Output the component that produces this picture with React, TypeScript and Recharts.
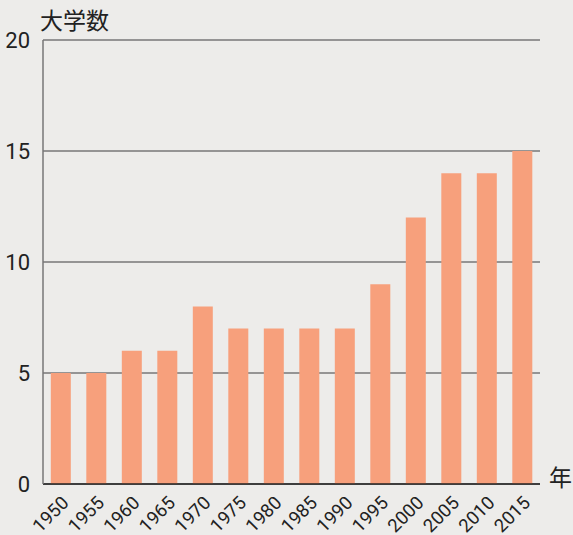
import { Bar, BarChart, CartesianGrid, XAxis, YAxis } from "recharts";

const years = ["1950", "1955", "1960", "1965", "1970", "1975", "1980", "1985", "1990", "1995", "2000", "2005", "2010", "2015"];
const universities = [5, 5, 6, 6, 8, 7, 7, 7, 7, 9, 12, 14, 14, 15];
const yTicks = [0, 5, 10, 15, 20];

const data = years.map((year, i) => ({ year, count: universities[i] }));

const FONT = "Roboto, 'Noto Sans CJK JP', sans-serif";

function YearTick(props: any) {
  const { x, y, payload } = props;
  return (
    <text
      x={x + 9}
      y={y + 12}
      transform={`rotate(-45, ${x + 9}, ${y + 12})`}
      textAnchor="end"
      fontSize={18.5}
      fill="#222"
      fontFamily={FONT}
    >
      {payload.value}
    </text>
  );
}

export default function App() {
  return (
    <div style={{ position: "absolute", left: 0, top: 0, width: 573, height: 535, background: "#edecea" }}>
      <BarChart
        width={573}
        height={535}
        data={data}
        margin={{ top: 40, right: 33, bottom: 0, left: 0 }}
        barCategoryGap="22%"
      >
        <CartesianGrid vertical={false} stroke="#777" strokeWidth={1.5} />
        <XAxis
          dataKey="year"
          tick={<YearTick />}
          tickLine={false}
          axisLine={{ stroke: "#222", strokeWidth: 1.5 }}
          interval={0}
          height={51}
        />
        <YAxis
          domain={[0, 20]}
          ticks={yTicks}
          width={43}
          tickLine={false}
          axisLine={{ stroke: "#777", strokeWidth: 1.5 }}
          tick={{ fontSize: 22, fill: "#222", fontFamily: FONT }}
          tickMargin={7}
        />
        <Bar dataKey="count" fill="#f7a07c" isAnimationActive={false} />
      </BarChart>
      <div style={{ position: "absolute", left: 40, top: 8, fontSize: 23, color: "#222", fontFamily: FONT, lineHeight: "28px" }}>
        大学数
      </div>
      <div style={{ position: "absolute", left: 549, top: 465, fontSize: 23, color: "#222", fontFamily: FONT, lineHeight: "28px" }}>
        年
      </div>
    </div>
  );
}
